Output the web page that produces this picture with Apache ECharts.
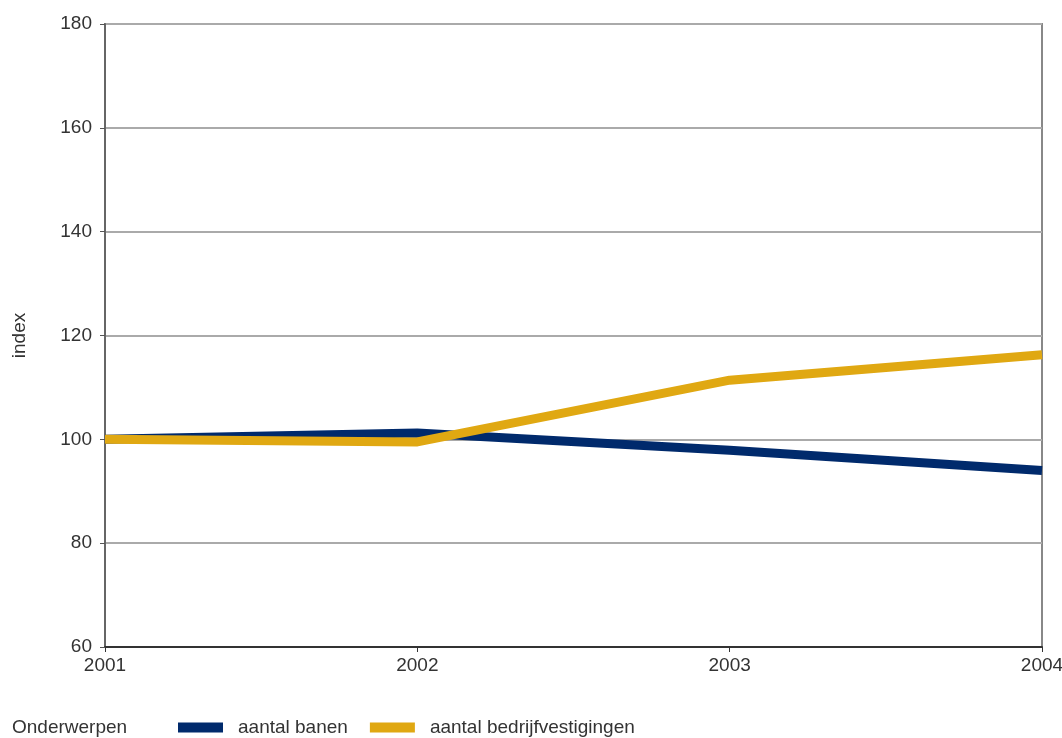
<!DOCTYPE html>
<html><head><meta charset="utf-8">
<script src="https://cdn.jsdelivr.net/npm/echarts@6/dist/echarts.min.js"></script>
<style>html,body{margin:0;padding:0;background:#fff}#c{width:1062px;height:738px}</style>
</head><body><div id="c"></div>
<script>
const years = ['2001','2002','2003','2004'];
const banen = [100, 101.2, 97.9, 94.0];
const bedrijfvestigingen = [100, 99.5, 111.4, 116.3];
const yTicks = [60, 80, 100, 120, 140, 160, 180];

const chart = echarts.init(document.getElementById('c'));
const font = '"Liberation Sans", Arial, sans-serif';
chart.setOption({
  animation: false,
  grid: {left: 105, right: 20, top: 24, bottom: 91, show: true, borderColor: '#888', borderWidth: 2, outerBoundsMode: 'none', containLabel: false},
  xAxis: {
    type: 'category', data: years, boundaryGap: false,
    axisLine: {lineStyle: {color: '#333', width: 2}},
    axisTick: {show: true, length: 5, lineStyle: {color: '#333'}},
    axisLabel: {color: '#333', fontFamily: font, fontSize: 19, margin: 9},
    splitLine: {show: false}
  },
  yAxis: {
    type: 'value', min: yTicks[0], max: yTicks[yTicks.length-1], interval: 20,
    name: 'index', nameLocation: 'middle', nameGap: 76, nameRotate: 90,
    nameTextStyle: {color: '#333', fontFamily: font, fontSize: 19},
    axisLine: {show: true, lineStyle: {color: '#666', width: 2}},
    axisTick: {show: true, length: 5, lineStyle: {color: '#555'}},
    axisLabel: {color: '#333', fontFamily: font, fontSize: 19, margin: 13},
    splitLine: {lineStyle: {color: '#aaa', width: 2}}
  },
  legend: {
    left: 178, top: 718, padding: 0, itemWidth: 45, itemHeight: 10, itemGap: 22,
    icon: 'rect',
    textStyle: {color: '#333', fontFamily: font, fontSize: 19, padding: [0, 0, 0, 10]},
    data: ['aantal banen', 'aantal bedrijfvestigingen']
  },
  graphic: [{type: 'text', left: 12, top: 718, style: {text: 'Onderwerpen', fill: '#333', fontFamily: font, fontSize: 19}}],
  series: [
    {name: 'aantal banen', type: 'line', data: banen, symbol: 'none', itemStyle: {color: '#002a6c'}, lineStyle: {color: '#002a6c', width: 9}},
    {name: 'aantal bedrijfvestigingen', type: 'line', data: bedrijfvestigingen, symbol: 'none', itemStyle: {color: '#e0a812'}, lineStyle: {color: '#e0a812', width: 9}}
  ]
});
</script></body></html>
